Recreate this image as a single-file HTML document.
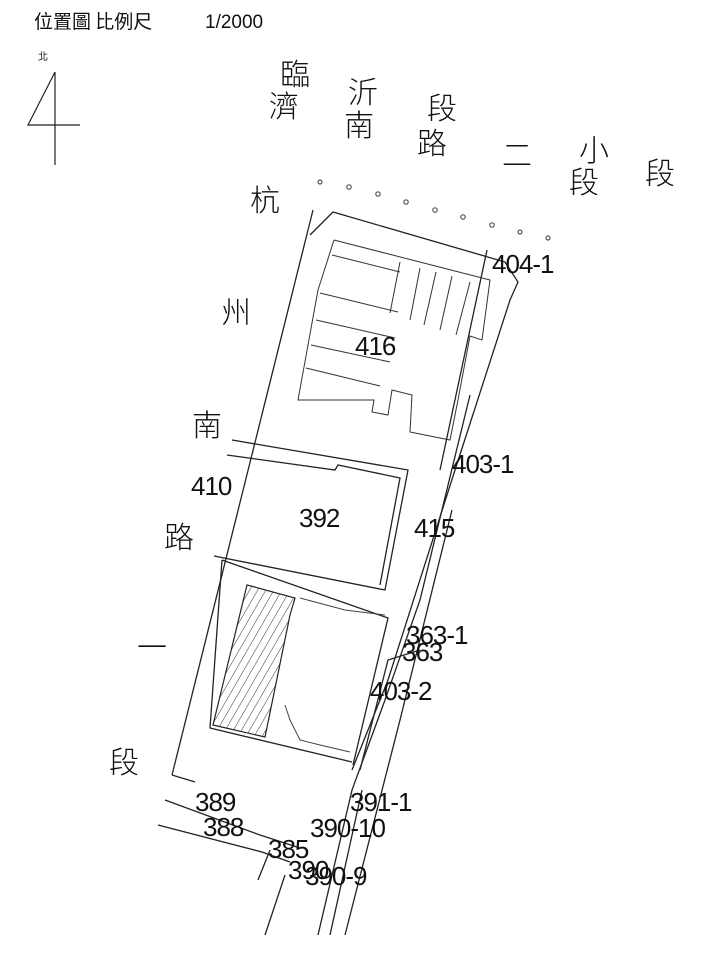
<!DOCTYPE html>
<html><head><meta charset="utf-8"><style>
html,body{margin:0;padding:0;background:#fff;}
svg{display:block;}
text{font-family:"Liberation Sans","Noto Sans CJK TC",sans-serif;fill:#111;}
.c{font-size:30px;font-family:"Noto Sans CJK TC","WenQuanYi Zen Hei",sans-serif;font-weight:300;}
.n{font-size:26px;letter-spacing:-1px;}
</style></head><body>
<svg width="717" height="960" viewBox="0 0 717 960" xmlns="http://www.w3.org/2000/svg">
<defs>
<pattern id="h" width="7" height="7" patternUnits="userSpaceOnUse" patternTransform="rotate(30)">
<line x1="0" y1="0" x2="0" y2="7" stroke="#333" stroke-width="1"/>
</pattern>
</defs>
<text x="34" y="28" style="font-size:19px;font-family:'Noto Sans CJK TC',sans-serif">位置圖 比例尺</text>
<text x="205" y="28" style="font-size:19px">1/2000</text>
<text x="38" y="60" style="font-size:10px;font-family:'Noto Sans CJK TC',sans-serif">北</text>
<g stroke="#222" stroke-width="1.2" fill="none">
<path d="M55 72 L28 125 L80 125"/>
<line x1="55" y1="72" x2="55" y2="165"/>
</g>
<g fill="none" stroke="#555" stroke-width="1.2">
<circle cx="320" cy="182" r="2"/><circle cx="349" cy="187" r="2.2"/><circle cx="378" cy="194" r="2.2"/>
<circle cx="406" cy="202" r="2.2"/><circle cx="435" cy="210" r="2.2"/><circle cx="463" cy="217" r="2.2"/>
<circle cx="492" cy="225" r="2.2"/><circle cx="520" cy="232" r="2"/><circle cx="548" cy="238" r="2"/>
</g>
<g stroke="#222" stroke-width="1.3" fill="none">
<path d="M313 210 L172 775"/>
<path d="M310 235 L333 212 L505 262 L518 282 L510 300 L455 470 L388 680 L352 770"/>
<path d="M487 250 L440 470"/>
<path d="M232 440 L408 470 L385 590 L214 556"/>
<path d="M227 455 L335 470 L338 465 L400 478 L380 585"/>
<path d="M222 560 L388 618 L353 765"/>
<path d="M222 560 L210 728 L352 762"/>
<path d="M172 775 L195 782"/>
<path d="M470 395 L420 600 L385 700 L352 790 L318 935"/>
<path d="M452 510 L400 720 L345 935"/>
<path d="M420 650 L388 660 L360 770"/>
<path d="M362 790 L330 935"/>
<path d="M165 800 L260 835 L300 848"/>
<path d="M158 825 L262 852 L290 862"/>
<path d="M270 850 L258 880"/>
<path d="M285 875 L265 935"/>
</g>
<g stroke="#333" stroke-width="1" fill="none">
<path d="M334 240 L490 280 L482 340 L470 336 L458 400 L450 440 L410 432 L412 395 L392 390 L388 415 L372 412 L374 400 L298 400 L318 290 L334 240"/>
<path d="M332 255 L400 272"/>
<path d="M320 293 L398 312"/>
<path d="M316 320 L395 338"/>
<path d="M311 345 L390 362"/>
<path d="M306 368 L380 386"/>
<path d="M400 262 L390 313"/>
<path d="M420 268 L410 320"/>
<path d="M436 272 L424 325"/>
<path d="M452 276 L440 330"/>
<path d="M470 282 L456 335"/>
</g>
<path d="M247 585 L295 598 L290 615 L265 737 L213 725 Z" fill="url(#h)" stroke="#222" stroke-width="1.2"/>
<g stroke="#444" stroke-width="1" fill="none">
<path d="M300 598 L345 610 L385 615"/>
<path d="M285 705 L290 720 L300 740 L320 745 L350 752"/>
</g>
<text class="c" x="280" y="85">臨</text>
<text class="c" x="269" y="117">濟</text>
<text class="c" x="348" y="103">沂</text>
<text class="c" x="344" y="136">南</text>
<text class="c" x="427" y="119">段</text>
<text class="c" x="417" y="154">路</text>
<text class="c" x="502" y="166">二</text>
<text class="c" x="579" y="161">小</text>
<text class="c" x="569" y="193">段</text>
<text class="c" x="645" y="184">段</text>
<text class="c" x="250" y="211">杭</text>
<text class="c" x="221" y="323">州</text>
<text class="c" x="192" y="436">南</text>
<text class="c" x="164" y="548">路</text>
<text class="c" x="137" y="658">一</text>
<text class="c" x="109" y="773">段</text>
<text class="n" x="492" y="273">404-1</text>
<text class="n" x="355" y="355">416</text>
<text class="n" x="452" y="473">403-1</text>
<text class="n" x="191" y="495">410</text>
<text class="n" x="299" y="527">392</text>
<text class="n" x="414" y="537">415</text>
<text class="n" x="406" y="644">363-1</text>
<text class="n" x="402" y="661">363</text>
<text class="n" x="370" y="700">403-2</text>
<text class="n" x="350" y="811">391-1</text>
<text class="n" x="195" y="811">389</text>
<text class="n" x="203" y="836">388</text>
<text class="n" x="310" y="837">390-10</text>
<text class="n" x="268" y="858">385</text>
<text class="n" x="288" y="879">390</text>
<text class="n" x="305" y="885">390-9</text>
</svg>
</body></html>
